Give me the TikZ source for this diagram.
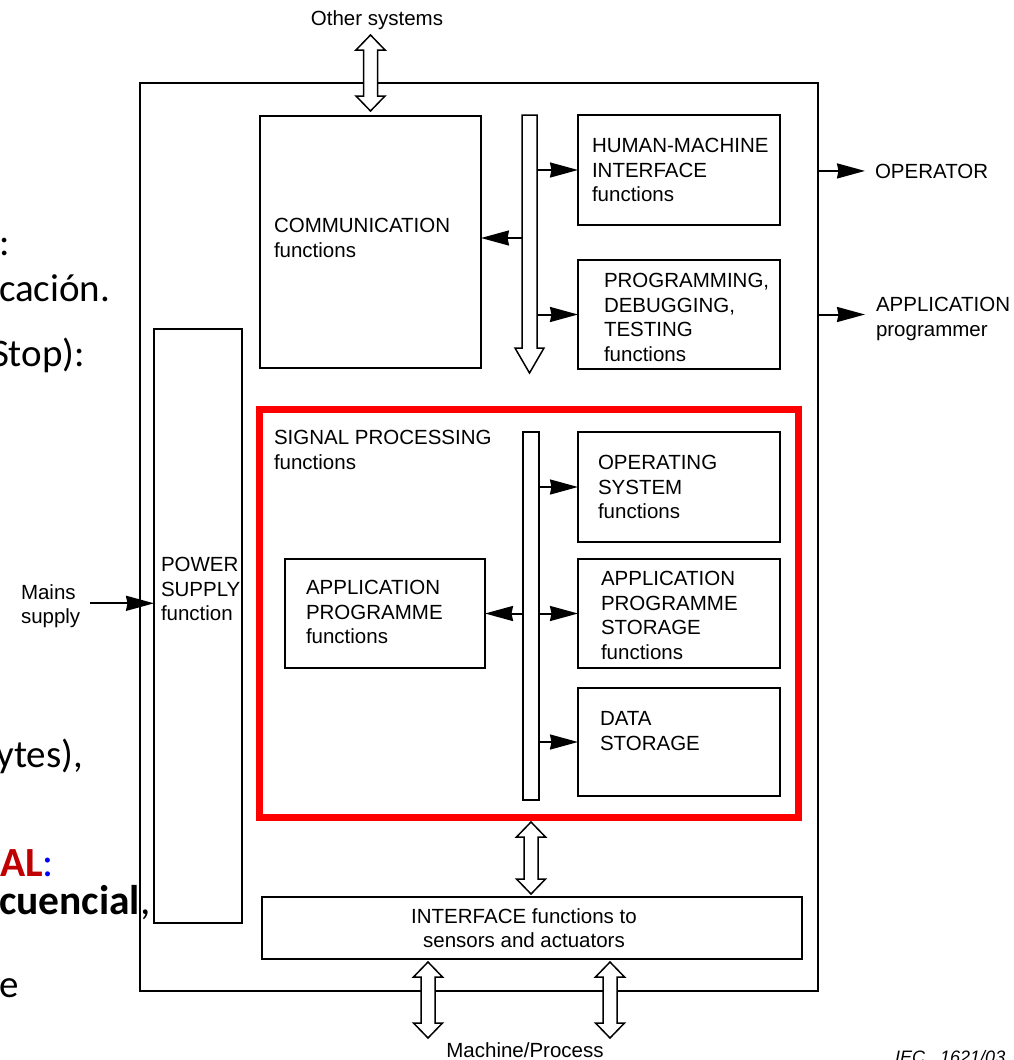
\documentclass[tikz,border=0pt]{standalone}
\usepackage{fontspec}
\setmainfont{Liberation Sans}
\newfontfamily\slidefont{Carlito}
\usetikzlibrary{arrows.meta,calc}

\newcommand\diag{\fontsize{20.5}{24.5}\selectfont}
\newcommand\slidetxt{\slidefont\fontsize{39}{46}\selectfont}
\newcommand\slidebig{\slidefont\fontsize{41.5}{48}\selectfont}

\tikzset{
  box/.style={draw, line width=1.6pt, anchor=north west, inner sep=0pt, outer sep=0pt},
  txt/.style={inner sep=0pt, outer sep=0pt, anchor=north west, align=left, font=\diag},
  frag/.style={inner sep=0pt, outer sep=0pt, anchor=base west, font=\slidetxt},
  arr/.style={line width=2pt, -{Stealth[length=28pt,width=15pt,inset=1.5pt]}},
  hollow/.style={draw=black, fill=white, line width=1.5pt, line join=miter},
}

% two-headed hollow arrow between a top tip and a bottom tip
\newcommand\hollowpair[2]{%
  \filldraw[hollow] (#1) -- ([shift={(14.5pt,-15pt)}]#1) -- ([shift={(7pt,-15pt)}]#1)
    -- ([shift={(7pt,15pt)}]#2) -- ([shift={(14.5pt,15pt)}]#2) -- (#2)
    -- ([shift={(-14.5pt,15pt)}]#2) -- ([shift={(-7pt,15pt)}]#2)
    -- ([shift={(-7pt,-15pt)}]#1) -- ([shift={(-14.5pt,-15pt)}]#1) -- cycle;}

\begin{document}
\begin{tikzpicture}[x=1pt,y=-1pt]
\fill[white] (0,0) rectangle (1014,1060);
\useasboundingbox (0,0) rectangle (1014,1060);

% slide text running in from the left
\node[frag] (fa) at (-1,255) {:};
\node[frag] (fb) at (-1,301) {cación.};
\node[frag, anchor=base east] (fc) at (85,366) {Stop):};
\node[frag, anchor=base east] (fd) at (83,767) {ytes),};
\node[frag, font=\slidebig] (fe) at (0,876) {\textbf{\textcolor[HTML]{C00000}{AL}}\textcolor[HTML]{0000FF}{:}};
\node[frag, font=\slidebig] (ff) at (-1,914) {\textbf{cuencial},};
\node[frag] (fg) at (-1,997) {e};

% enclosing frame of the controller
\node[box, minimum width=678pt, minimum height=908pt] (outer) at (140,83) {};

% function blocks
\node[box, minimum width=221pt, minimum height=252pt] (comm) at (260,116) {};
\node[box, minimum width=202pt, minimum height=110pt] (hmi) at (578,115) {};
\node[box, minimum width=202pt, minimum height=109pt] (prog) at (578,260) {};
\node[box, minimum width=88pt, minimum height=594pt] (power) at (154,329) {};
\node[box, draw=red, line width=7pt, minimum width=539pt, minimum height=408.5pt] (sp) at (259.5,409) {};
\node[box, minimum width=16pt, minimum height=368pt] (ibus) at (523,432) {};
\node[box, minimum width=202pt, minimum height=110pt] (os) at (578,432) {};
\node[box, minimum width=202pt, minimum height=109pt] (aps) at (578,559) {};
\node[box, minimum width=202pt, minimum height=108pt] (ds) at (578,688) {};
\node[box, minimum width=200pt, minimum height=109pt] (apf) at (285,559) {};
\node[box, minimum width=540pt, minimum height=62pt] (iface) at (262,897) {};

% block texts
\node[txt] (commt) at (274,218.5) {COMMUNICATION\\functions};
\node[txt] (hmit) at (592,138.5) {HUMAN-MACHINE\\INTERFACE\\functions};
\node[txt] (progt) at (604,273.5) {PROGRAMMING,\\DEBUGGING,\\TESTING\\functions};
\node[txt] (powert) at (161,557.5) {POWER\\SUPPLY\\function};
\node[txt] (spt) at (274,430.5) {SIGNAL PROCESSING\\functions};
\node[txt] (ost) at (598,455.5) {OPERATING\\SYSTEM\\functions};
\node[txt] (apst) at (601,571.5) {APPLICATION\\PROGRAMME\\STORAGE\\functions};
\node[txt] (dst) at (600,711.5) {DATA\\STORAGE};
\node[txt] (apft) at (306,580.5) {APPLICATION\\PROGRAMME\\functions};
\node[txt, anchor=north, align=center] (ifacet) at (524,908.5) {INTERFACE functions to\\sensors and actuators};

% external parties
\node[txt, anchor=base] (others) at (377,25) {Other systems};
\node[txt, anchor=base west] (op) at (875,178) {OPERATOR};
\node[txt] (appl) at (876,297.5) {APPLICATION\\programmer};
\node[txt] (mains) at (21,584.5) {Mains\\supply};
\node[txt, anchor=base] (machine) at (525,1057) {Machine/Process};
\node[inner sep=0pt, anchor=base west, font=\fontsize{18}{22}\selectfont\itshape] (iec) at (895,1063) {IEC\ \ \ 1621/03};

% bus of the communication part: hollow arrow pointing down
\node[inner sep=0pt, outer sep=0pt, anchor=north west, minimum width=15pt, minimum height=233pt] (bus) at (522,115) {};
\coordinate (bustip) at (529.5,373);
\filldraw[hollow] (bus.north west) -- (bus.south west) -- ([xshift=-7pt]bus.south west)
  -- (bustip) -- ([xshift=7pt]bus.south east) -- (bus.south east) -- (bus.north east) -- cycle;

% links from the bus
\coordinate (commy) at (0,238);
\draw[arr] (hmi.west -| bus.east) -- (hmi.west);
\draw[arr] (bus.west |- commy) -- (comm.east |- commy);
\draw[arr] (prog.west -| bus.east) -- (prog.west);

% links from the signal-processing bus
\draw[arr] (os.west -| ibus.east) -- (os.west);
\draw[arr] (aps.west -| ibus.east) -- (aps.west);
\draw[arr] (ds.west -| ibus.east) -- (ds.west);
\draw[arr] (apf.east -| ibus.west) -- (apf.east);

% links to the outside
\coordinate (opin) at ([xshift=-10pt]op.west);
\draw[arr] (outer.east |- opin) -- (opin);
\coordinate (applin) at ([xshift=-11pt]appl.west);
\draw[arr] (outer.east |- prog.east) -- (applin |- prog.east);
\coordinate (mainsout) at ($(mains.east)+(10,-3)$);
\draw[arr] (mainsout) -- (power.west |- mainsout);

% two-way hollow arrows
\coordinate (ostop) at (370.5,35);
\coordinate (osbot) at ($(comm.north)+(0,-5)$);
\hollowpair{ostop}{osbot}
\coordinate (midtop) at ($(sp.south -| iface.north)+(-1,4.5)$);
\coordinate (midbot) at ($(iface.north)+(-1,-3)$);
\hollowpair{midtop}{midbot}
\coordinate (b1top) at ($(iface.south -| 428,0)+(0,3)$);
\coordinate (b1bot) at (428,1038);
\hollowpair{b1top}{b1bot}
\coordinate (b2top) at ($(iface.south -| 610,0)+(0,3)$);
\coordinate (b2bot) at (610,1038);
\hollowpair{b2top}{b2bot}
\end{tikzpicture}
\end{document}
